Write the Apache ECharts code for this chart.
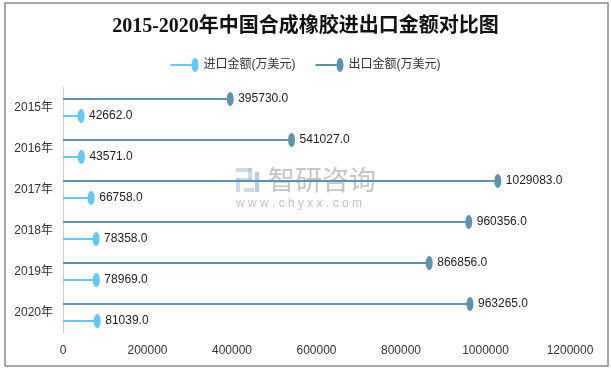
<!DOCTYPE html>
<html><head><meta charset="utf-8">
<script src="https://cdn.jsdelivr.net/npm/echarts@6/dist/echarts.min.js"></script>
<style>html,body{margin:0;padding:0;background:#fff}#c{width:611px;height:371px}</style>
</head><body><div id="c"></div>
<script>
var categories = ['2015年','2016年','2017年','2018年','2019年','2020年'];
var importValues = [42662, 43571, 66758, 78358, 78969, 81039];
var exportValues = [395730, 541027, 1029083, 960356, 866856, 963265];
var xTicks = [0, 200000, 400000, 600000, 800000, 1000000, 1200000];
var importName = '进口金额(万美元)';
var exportName = '出口金额(万美元)';
var importColor = '#63c8f3';
var exportColor = '#5f93ad';
var font = '"Liberation Sans", "Noto Sans CJK SC", sans-serif';
var legendIcon = 'path://M0,6 H22 V8 H0 Z M24.5,0 A3.5,7 0 1,1 24.5,14 A3.5,7 0 1,1 24.5,0 Z';

var chart = echarts.init(document.getElementById('c'));
function lab(p){ return Number(p.value).toFixed(1); }
chart.setOption({
  animation: false,
  title: { text: '2015-2020年中国合成橡胶进出口金额对比图', left: 'center', top: 12,
    textStyle: { fontFamily: '"Liberation Serif", "Noto Sans CJK SC", serif', fontSize: 20, fontWeight: 'bold', color: '#111' } },
  legend: { top: 53, left: 'center', itemWidth: 28, itemHeight: 14, itemGap: 20,
    textStyle: { fontFamily: font, fontSize: 12, color: '#333' },
    data: [{ name: importName, icon: legendIcon }, { name: exportName, icon: legendIcon }] },
  grid: { left: 63, right: 41, top: 87, bottom: 38, containLabel: false },
  xAxis: { type: 'value', min: xTicks[0], max: xTicks[xTicks.length-1], interval: 200000,
    axisLine: { show: false }, axisTick: { show: false }, splitLine: { show: false },
    axisLabel: { margin: 12, color: '#333', fontFamily: font, fontSize: 12, formatter: function(v){ return String(v); } } },
  yAxis: { type: 'category', data: categories, inverse: true,
    axisLine: { show: true, lineStyle: { color: '#d0d0d0' } }, axisTick: { show: false },
    axisLabel: { margin: 10, color: '#333', fontFamily: font, fontSize: 12 } },
  graphic: [
    { type: 'rect', shape: { x: 5, y: 3, width: 603, height: 363 }, style: { fill: 'none', stroke: '#8a8a8a', lineWidth: 1.5 }, z: 100 },
    { type: 'group', left: 236, top: 166, z: 100, children: [
      { type: 'rect', shape: { x: 0, y: 0, width: 16, height: 4 }, style: { fill: 'rgba(160,190,220,0.55)' } },
      { type: 'rect', shape: { x: 12, y: 0, width: 4, height: 12 }, style: { fill: 'rgba(160,190,220,0.55)' } },
      { type: 'rect', shape: { x: 0, y: 10, width: 16, height: 4 }, style: { fill: 'rgba(160,190,220,0.55)' } },
      { type: 'rect', shape: { x: 0, y: 10, width: 4, height: 14 }, style: { fill: 'rgba(160,190,220,0.55)' } },
      { type: 'rect', shape: { x: 8, y: 20, width: 10, height: 4 }, style: { fill: 'rgba(160,190,220,0.55)' } },
      { type: 'rect', shape: { x: 19, y: 4, width: 4, height: 20 }, style: { fill: 'rgba(120,170,210,0.55)' } },
      { type: 'text', x: 32, y: -2, style: { text: '智研咨询', font: '27px "Noto Sans CJK SC"', fill: 'rgba(140,140,140,0.5)' } },
      { type: 'text', x: 0, y: 30, style: { text: 'w w w . c h y x x . c o m', font: '12px "Liberation Sans"', fill: 'rgba(140,140,140,0.55)' } }
    ] }
  ],
  series: [
    { name: exportName, type: 'bar', data: exportValues, barWidth: 2, barGap: '750%', itemStyle: { color: exportColor },
      label: { show: true, position: 'right', distance: 8, formatter: lab, color: '#222', fontFamily: font, fontSize: 12 } },
    { name: importName, type: 'bar', data: importValues, barWidth: 2, barGap: '750%', itemStyle: { color: importColor },
      label: { show: true, position: 'right', distance: 8, formatter: lab, color: '#222', fontFamily: font, fontSize: 12 } },
    { name: exportName, type: 'pictorialBar', data: exportValues, barWidth: 2, barGap: '750%', symbol: 'circle', symbolSize: [7, 14],
      symbolPosition: 'end', symbolOffset: ['50%', 0], itemStyle: { color: exportColor }, z: 3 },
    { name: importName, type: 'pictorialBar', data: importValues, barWidth: 2, barGap: '750%', symbol: 'circle', symbolSize: [7, 14],
      symbolPosition: 'end', symbolOffset: ['50%', 0], itemStyle: { color: importColor }, z: 3 }
  ]
});
</script></body></html>
